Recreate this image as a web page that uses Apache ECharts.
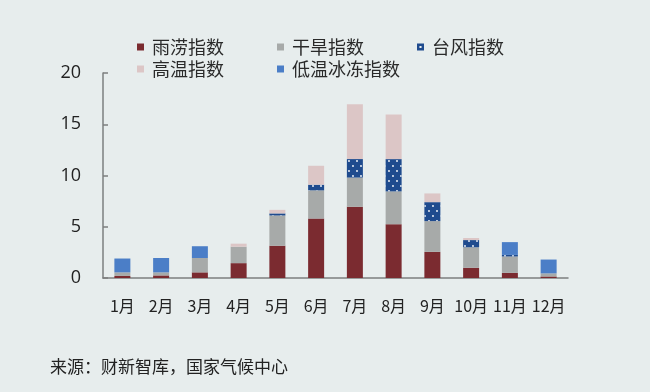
<!DOCTYPE html>
<html><head><meta charset="utf-8">
<script src="https://cdn.jsdelivr.net/npm/echarts@6/dist/echarts.min.js"></script>
<style>html,body{margin:0;padding:0;background:#e7eded;}#c{width:650px;height:392px;}</style>
</head><body><div id="c"></div>
<script>
const months = ['1月','2月','3月','4月','5月','6月','7月','8月','9月','10月','11月','12月'];
const rainIdx    = [0.2, 0.25, 0.55, 1.45, 3.15, 5.8, 6.95, 5.25, 2.55, 1.0, 0.5, 0.15];
const droughtIdx = [0.35, 0.3, 1.4, 1.6, 2.95, 2.75, 2.85, 3.2, 3.0, 2.0, 1.6, 0.3];
const typhoonIdx = [0, 0, 0, 0, 0.2, 0.55, 1.8, 3.15, 1.85, 0.7, 0.15, 0];
const heatIdx    = [0, 0, 0, 0.3, 0.35, 1.85, 5.35, 4.35, 0.85, 0.2, 0, 0];
const coldIdx    = [1.35, 1.4, 1.15, 0, 0, 0, 0, 0, 0, 0, 1.25, 1.35];
const yTicks = [0, 5, 10, 15, 20];

const names = ['雨涝指数','干旱指数','台风指数','高温指数','低温冰冻指数'];
const colors = ['#7b2b30','#a7aaa9','#1f4b8e','#dcc6c6','#4b7ec7'];
const dataSets = [rainIdx, droughtIdx, typhoonIdx, heatIdx, coldIdx];

const chart = echarts.init(document.getElementById('c'));
const legendPos = [[137,38],[277,38],[417,38],[137,60],[277,60]];
const holeIcon = 'path://M0,0H10V10H0Z M3.5,3.5V6.5H6.5V3.5Z';
const legends = names.map((n,i)=>({
  data:[i===2 ? {name:n, icon:holeIcon, itemStyle:{decal:'none'}} : n],
  left:legendPos[i][0], top:legendPos[i][1],
  itemWidth:7, itemHeight:7, itemGap:0, padding:0,
  textStyle:{fontSize:18, color:'#2a2a2a', fontFamily:'Noto Sans CJK SC', padding:[0,0,0,3]},
  icon:'rect'
}));
const decal = {symbol:'circle', symbolSize:0.9, color:'#ffffff', dashArrayX:[[2,6],[0,4,2,2]], dashArrayY:[2,2.6]};
const series = names.map((n,i)=>({
  name:n, type:'bar', stack:'a', barWidth:16,
  data:dataSets[i].map(v=>v===0?null:v),
  itemStyle:Object.assign({color:colors[i]}, i===2?{decal:decal}:{})
}));
chart.setOption({
  backgroundColor:'#e7eded',
  animation:false,
  legend:legends,
  grid:{left:103, right:82, top:73, bottom:114},
  xAxis:{type:'category', data:months, boundaryGap:true,
    axisLine:{lineStyle:{color:'#7d7f7f', width:1.5}},
    axisTick:{inside:true, length:5, lineStyle:{color:'#7d7f7f', width:1.5}},
    axisLabel:{interval:0, fontSize:16, color:'#222', margin:20, fontFamily:'Noto Sans CJK SC'}},
  yAxis:{type:'value', min:yTicks[0], max:yTicks[yTicks.length-1], interval:5,
    axisLine:{show:true, lineStyle:{color:'#7d7f7f', width:1.5}},
    axisTick:{show:true, inside:true, length:5, lineStyle:{color:'#7d7f7f', width:1.5}},
    splitLine:{show:false},
    axisLabel:{fontSize:18, color:'#222', margin:22, fontFamily:'Open Sans'}},
  graphic:[{type:'text', left:50, top:358, style:{text:'来源：财新智库，国家气候中心', fontSize:17, fill:'#222', fontFamily:'Noto Sans CJK SC'}}],
  series:series
});
</script></body></html>
